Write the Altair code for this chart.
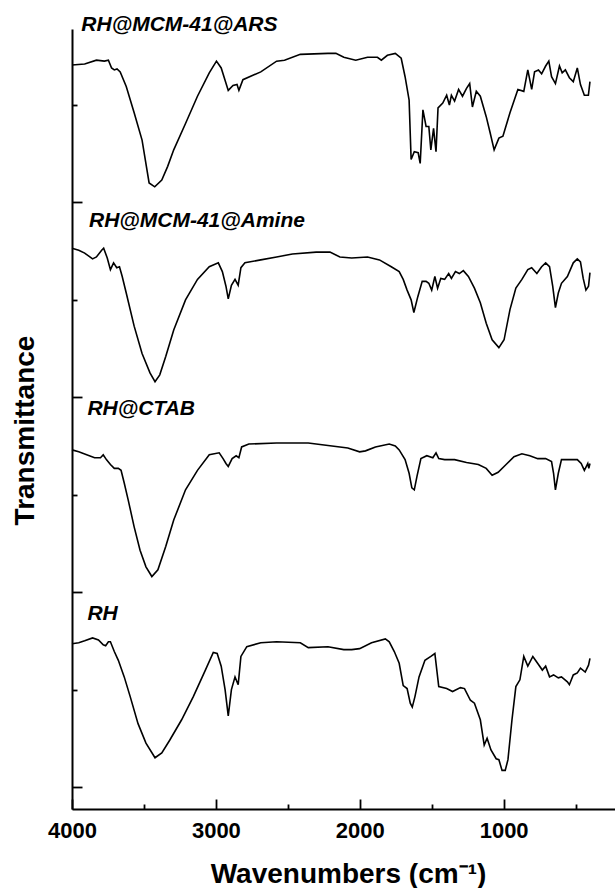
import altair as alt
import pandas as pd

# Wavenumber (cm-1), stacked transmittance (a.u.)
ARS = [(4000,74.1),(3912,74.2),(3830,74.6),(3775,74.5),(3747,74.6),(3725,73.8),(3706,73.6),(3687,73.7),(3665,73.4),(3623,71.9),(3568,69.2),(3513,66.4),(3464,62.0),(3425,61.6),(3376,62.3),(3335,63.7),(3293,65.4),(3211,68.1),(3128,70.9),(3046,73.3),(2996,74.5),(2963,73.8),(2914,71.5),(2881,72.0),(2853,72.1),(2840,71.5),(2812,72.6),(2688,73.4),(2578,74.5),(2523,74.6),(2413,75.2),(2221,75.3),(2166,75.3),(2111,74.9),(2028,74.6),(1946,74.9),(1877,74.9),(1850,74.6),(1808,75.1),(1753,75.3),(1712,74.8),(1685,72.9),(1657,70.5),(1643,64.4),(1621,65.2),(1594,65.1),(1580,64.0),(1561,69.5),(1539,67.8),(1520,67.8),(1506,65.4),(1487,67.6),(1470,65.2),(1456,69.7),(1423,70.2),(1396,71.0),(1377,70.0),(1363,71.0),(1341,70.4),(1313,71.6),(1286,70.9),(1258,71.7),(1236,72.2),(1217,69.8),(1190,71.4),(1162,70.9),(1121,68.8),(1093,67.1),(1066,65.4),(1033,66.6),(1005,66.8),(956,69.2),(901,71.6),(860,71.4),(832,73.6),(805,71.6),(785,73.4),(758,73.6),(736,73.2),(708,74.0),(686,74.5),(667,72.9),(640,72.2),(612,74.0),(593,73.3),(571,73.6),(543,72.8),(516,72.4),(488,73.8),(466,72.1),(439,71.0),(411,71.0),(400,72.4)]

AMINE = [(4000,55.3),(3953,55.1),(3912,54.8),(3857,54.2),(3830,54.4),(3794,55.1),(3780,55.3),(3755,54.3),(3733,53.1),(3711,53.8),(3689,53.3),(3670,53.4),(3651,52.4),(3623,50.7),(3568,47.3),(3513,44.5),(3458,42.5),(3423,41.6),(3390,42.3),(3348,44.2),(3293,46.9),(3211,50.0),(3128,52.1),(3046,53.4),(2983,53.8),(2955,52.9),(2930,51.4),(2914,50.1),(2892,51.5),(2867,52.1),(2845,51.5),(2826,53.3),(2798,53.8),(2688,54.1),(2578,54.4),(2468,54.7),(2303,54.9),(2207,54.9),(2138,54.4),(2056,54.3),(1946,54.4),(1863,54.1),(1781,53.4),(1726,52.9),(1698,52.1),(1671,51.0),(1643,50.0),(1624,48.7),(1597,50.3),(1566,51.9),(1539,51.9),(1520,51.7),(1500,51.0),(1478,52.4),(1459,51.2),(1437,52.2),(1410,52.1),(1382,52.7),(1363,52.2),(1335,52.9),(1308,52.7),(1280,53.0),(1245,52.4),(1203,51.2),(1162,49.7),(1121,47.6),(1080,45.9),(1033,45.1),(997,45.9),(956,49.0),(915,51.2),(873,52.1),(832,53.1),(805,53.3),(769,52.7),(736,53.4),(708,53.8),(681,53.4),(659,51.4),(640,49.2),(620,50.7),(598,51.7),(557,52.4),(516,53.8),(488,54.2),(466,53.9),(447,52.2),(428,51.0),(410,51.4),(400,52.8)]

CTAB = [(4000,34.6),(3953,34.4),(3898,34.1),(3843,33.8),(3802,33.8),(3783,34.1),(3761,33.6),(3733,33.1),(3706,32.7),(3678,32.7),(3659,32.5),(3637,31.2),(3610,29.5),(3568,26.7),(3527,24.3),(3486,22.6),(3445,21.6),(3403,22.3),(3348,24.7),(3293,27.4),(3211,30.5),(3128,32.5),(3046,34.1),(2977,34.3),(2950,33.7),(2930,33.2),(2914,32.9),(2887,33.7),(2859,34.0),(2840,33.8),(2821,34.9),(2771,35.2),(2578,35.3),(2358,35.3),(2193,35.0),(2083,34.8),(2001,34.4),(1960,34.5),(1891,34.9),(1795,35.2),(1753,35.0),(1726,34.6),(1685,33.6),(1657,32.2),(1638,30.7),(1621,30.5),(1602,31.9),(1575,33.7),(1534,34.0),(1492,33.8),(1470,34.3),(1451,33.7),(1410,33.6),(1341,33.6),(1258,33.3),(1176,33.1),(1121,32.7),(1080,32.0),(1038,32.3),(983,33.1),(928,33.9),(873,34.2),(818,34.0),(763,33.7),(708,33.7),(667,33.4),(653,32.2),(640,30.5),(620,32.2),(598,33.6),(543,33.6),(488,33.6),(461,33.2),(439,32.5),(425,32.9),(415,33.2),(408,32.7),(400,33.2)]

RH = [(4000,14.7),(3953,14.8),(3912,15.0),(3857,15.3),(3816,15.1),(3783,14.6),(3766,14.5),(3747,14.9),(3733,14.9),(3706,13.9),(3678,13.0),(3637,11.3),(3596,9.3),(3541,6.5),(3486,4.5),(3423,3.0),(3376,3.5),(3321,4.8),(3238,6.9),(3156,9.3),(3073,12.0),(3018,13.8),(2991,13.7),(2963,12.4),(2936,10.0),(2914,7.3),(2892,10.0),(2867,11.3),(2845,10.5),(2826,13.4),(2785,14.4),(2688,14.8),(2578,14.9),(2413,14.8),(2358,14.3),(2221,14.4),(2111,14.1),(2056,14.1),(2001,14.2),(1918,14.8),(1822,15.2),(1795,14.9),(1760,13.9),(1726,12.7),(1698,10.4),(1671,10.1),(1649,8.6),(1635,8.2),(1616,9.3),(1588,11.3),(1547,13.0),(1506,13.4),(1478,13.7),(1451,10.3),(1396,10.1),(1355,9.8),(1300,10.2),(1272,10.1),(1231,8.9),(1203,8.6),(1162,6.9),(1135,4.3),(1115,5.0),(1088,3.8),(1052,2.9),(1033,2.8),(1011,1.7),(989,1.7),(970,2.8),(942,6.9),(915,10.3),(887,11.0),(860,13.4),(832,12.4),(797,13.4),(764,12.7),(731,12.0),(708,12.4),(681,11.3),(653,11.5),(620,11.2),(598,11.3),(557,10.8),(543,10.5),(516,11.5),(488,11.7),(466,12.2),(433,11.8),(410,12.5),(400,13.2)]

SERIES = {"RH@MCM-41@ARS": ARS, "RH@MCM-41@Amine": AMINE, "RH@CTAB": CTAB, "RH": RH}

LABEL_NAMES = ["RH@MCM-41@ARS", "RH@MCM-41@Amine", "RH@CTAB", "RH"]
LABEL_WN = [3935, 3882, 3893, 3893]
LABEL_Y = [77.6, 57.5, 38.2, 17.1]

X_MAJOR = [4000, 3000, 2000, 1000]
X_MINOR = [3500, 2500, 1500, 500]
Y_MAJOR = [0, 20, 40, 60]
Y_MINOR = [10, 30, 50, 70]
X_DOMAIN = [226, 4000]
Y_DOMAIN = [-2.26, 77.8]

rows = []
for name, pts in SERIES.items():
    for wn, v in pts:
        rows.append({"series": name, "wn": wn, "t": v})
df = pd.DataFrame(rows)
labels = pd.DataFrame({"name": LABEL_NAMES, "wn": LABEL_WN, "t": LABEL_Y})
anchor = pd.DataFrame({"wn": [2000], "t": [30]})

FONT = "Liberation Sans"
xs = alt.Scale(domain=X_DOMAIN, reverse=True, nice=False, zero=False)
ys = alt.Scale(domain=Y_DOMAIN, nice=False, zero=False)

lines = alt.Chart(df).mark_line(color="black", strokeWidth=1.6).encode(
    x=alt.X("wn:Q", scale=xs, axis=alt.Axis(
        orient="bottom", values=X_MAJOR, tickSize=10, offset=-10, domain=False, grid=False,
        tickColor="black", tickWidth=1.8, labelFont=FONT, labelFontSize=22, labelFontWeight="bold",
        labelColor="black", labelPadding=11, labelFlush=False, format="d", title=None)),
    y=alt.Y("t:Q", scale=ys, axis=alt.Axis(
        orient="left", values=Y_MAJOR, tickSize=10, offset=-10, domain=False, grid=False,
        labels=False, tickColor="black", tickWidth=1.8, title=None)),
    detail="series:N",
)

minor = alt.Chart(anchor).mark_point(opacity=0).encode(
    x=alt.X("wn:Q", scale=xs, axis=alt.Axis(
        orient="bottom", values=X_MINOR, tickSize=5, offset=-5, domain=False, grid=False,
        labels=False, tickColor="black", tickWidth=1.8, title=None)),
    y=alt.Y("t:Q", scale=ys, axis=alt.Axis(
        orient="left", values=Y_MINOR, tickSize=5, offset=-5, domain=False, grid=False,
        labels=False, tickColor="black", tickWidth=1.8, title=None)),
)

frame = alt.Chart(anchor).mark_point(opacity=0).encode(
    x=alt.X("wn:Q", scale=xs, axis=alt.Axis(
        orient="bottom", ticks=False, labels=False, grid=False, domain=True,
        domainColor="black", domainWidth=2,
        title="Wavenumbers (cm⁻¹)", titleFont=FONT, titleFontSize=28, titleFontWeight="bold",
        titleColor="black", titleX=276, titleY=73, titleBaseline="alphabetic", titleAlign="center")),
    y=alt.Y("t:Q", scale=ys, axis=alt.Axis(
        orient="left", ticks=False, labels=False, grid=False, domain=True,
        domainColor="black", domainWidth=2,
        title="Transmittance", titleFont=FONT, titleFontSize=28, titleFontWeight="bold",
        titleColor="black", titleX=-39, titleY=401, titleAngle=270,
        titleBaseline="alphabetic", titleAlign="center")),
)

text = alt.Chart(labels).mark_text(
    align="left", baseline="alphabetic", font=FONT, fontSize=21, fontWeight="bold",
    fontStyle="italic", color="black").encode(
    x=alt.X("wn:Q", scale=xs, axis=None),
    y=alt.Y("t:Q", scale=ys, axis=None),
    text="name:N",
)

chart = alt.layer(lines, minor, frame, text).resolve_axis(
    x="independent", y="independent"
).properties(
    width=543, height=780,
    autosize=alt.AutoSizeParams(type="none"),
    padding={"left": 72, "top": 29, "right": 0, "bottom": 79},
    background="white",
).configure_view(stroke=None)

chart.save("out.html", embed_options={"renderer": "svg", "actions": False})
